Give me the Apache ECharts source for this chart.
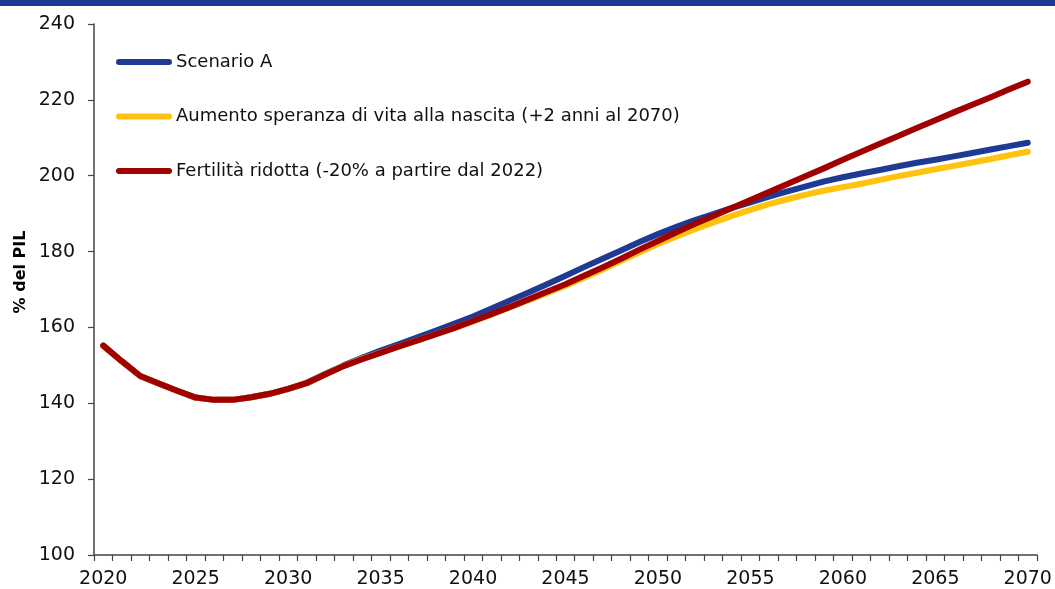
<!DOCTYPE html>
<html>
<head>
<meta charset="utf-8">
<script src="https://cdn.jsdelivr.net/npm/echarts@6/dist/echarts.min.js"></script>
<style>
html,body{margin:0;padding:0;background:#fff;}
#chart{width:1055px;height:589px;}
</style>
</head>
<body>
<div id="chart"></div>
<script>
// Data
const years = [];
for (let y = 2020; y <= 2070; y++) years.push(String(y));

const seriesNames = [
  'Scenario A',
  'Aumento speranza di vita alla nascita (+2 anni al 2070)',
  'Fertilità ridotta (-20% a partire dal 2022)'
];

const scenarioA = [
  155.2, 151.1, 147.2, 145.2, 143.3, 141.5, 140.9, 140.9, 141.6, 142.5,
  143.8, 145.4, 147.7, 150.0, 152.0, 153.9, 155.6, 157.4, 159.2, 161.0,
  162.9, 165.0, 167.1, 169.2, 171.4, 173.6, 175.9, 178.1, 180.3, 182.5,
  184.6, 186.5, 188.3, 189.9, 191.5, 193.0, 194.5, 195.9, 197.2, 198.5,
  199.6, 200.6, 201.5, 202.5, 203.4, 204.2, 205.1, 206.0, 206.9, 207.8,
  208.7
];

const speranzaVita = [
  155.2, 151.1, 147.2, 145.2, 143.3, 141.5, 140.9, 140.9, 141.6, 142.5,
  143.8, 145.3, 147.6, 149.9, 151.7, 153.4, 155.0, 156.6, 158.2, 159.9,
  161.6, 163.4, 165.3, 167.2, 169.1, 171.0, 173.1, 175.3, 177.6, 179.8,
  182.0, 184.0, 185.9, 187.7, 189.4, 191.0, 192.5, 193.8, 195.0, 196.1,
  197.0, 197.9, 198.9, 199.9, 200.8, 201.7, 202.6, 203.5, 204.4, 205.4,
  206.3
];

const fertilitaRidotta = [
  155.2, 151.1, 147.2, 145.2, 143.3, 141.5, 140.9, 140.9, 141.6, 142.5,
  143.8, 145.3, 147.6, 149.8, 151.6, 153.3, 155.0, 156.6, 158.2, 159.9,
  161.7, 163.5, 165.4, 167.4, 169.4, 171.4, 173.6, 175.8, 178.1, 180.5,
  182.8, 185.1, 187.3, 189.4, 191.5, 193.6, 195.7, 197.8, 199.9, 202.0,
  204.2, 206.3, 208.4, 210.5, 212.6, 214.6, 216.7, 218.7, 220.7, 222.8,
  224.8
];

const colors = ['#1f3a93', '#ffc20e', '#a00000'];
const pill = 'path://M3,0 L53,0 A3,3 0 0 1 53,6 L3,6 A3,3 0 0 1 3,0 Z';

const chart = echarts.init(document.getElementById('chart'), null, {renderer: 'canvas'});

function lineSeries(name, data, color, z) {
  return {
    name: name,
    type: 'line',
    data: data,
    showSymbol: false,
    symbol: 'none',
    smooth: false,
    z: z,
    lineStyle: {color: color, width: 6, cap: 'round', join: 'round'},
    itemStyle: {color: color}
  };
}

chart.setOption({
  animation: false,
  backgroundColor: '#ffffff',
  textStyle: {fontFamily: 'DejaVu Sans'},
  graphic: [
    {type: 'rect', shape: {x: 0, y: 0, width: 1055, height: 6}, style: {fill: '#1f3a93'}, z: 10},
    {type: 'text', x: 21, y: 272, rotation: Math.PI / 2,
     style: {text: '% del PIL', font: 'bold 16px "DejaVu Sans"', fill: '#000', align: 'center', verticalAlign: 'middle'}}
  ],
  grid: {left: 94, right: 18, top: 24, bottom: 33, containLabel: false},
  legend: {
    orient: 'vertical',
    left: 116,
    top: 51,
    padding: 0,
    itemWidth: 56,
    itemHeight: 6,
    itemGap: 32.5,
    icon: pill,
    data: seriesNames,
    textStyle: {fontFamily: 'DejaVu Sans', fontSize: 18, color: '#111', lineHeight: 22, padding: [0, 0, 0, -1]}
  },
  xAxis: {
    type: 'category',
    data: years,
    boundaryGap: true,
    axisLine: {lineStyle: {color: '#444', width: 1.5}},
    axisTick: {show: true, interval: 0, length: 6, lineStyle: {color: '#444', width: 1.2}},
    axisLabel: {interval: 4, margin: 15, fontFamily: 'DejaVu Sans', fontSize: 19, color: '#111'},
    splitLine: {show: false}
  },
  yAxis: {
    type: 'value',
    min: 100,
    max: 240,
    interval: 20,
    axisLine: {show: true, lineStyle: {color: '#444', width: 1.5}},
    axisTick: {show: true, length: 6, lineStyle: {color: '#444', width: 1.2}},
    axisLabel: {margin: 19, fontFamily: 'DejaVu Sans', fontSize: 19, color: '#111'},
    splitLine: {show: false}
  },
  series: [
    lineSeries(seriesNames[0], scenarioA, colors[0], 2),
    lineSeries(seriesNames[1], speranzaVita, colors[1], 3),
    lineSeries(seriesNames[2], fertilitaRidotta, colors[2], 4)
  ]
});
</script>
</body>
</html>
